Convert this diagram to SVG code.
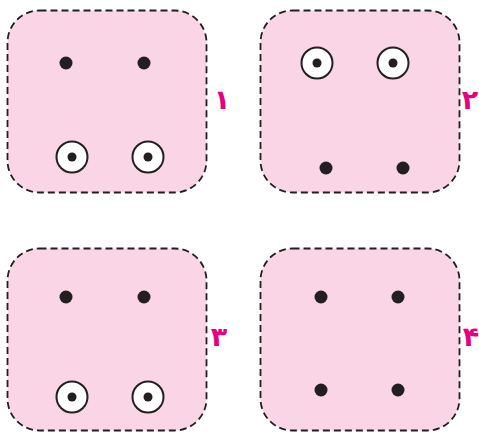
<svg xmlns="http://www.w3.org/2000/svg" width="479" height="432" viewBox="0 0 479 432">
<style>
.box{fill:#f9d5e5;stroke:#231f20;stroke-width:1.8;stroke-dasharray:7 4}
.dot{fill:#231f20}
.ring{fill:#fff;stroke:#231f20;stroke-width:2}
.lbl{fill:#e5007e;font-family:"DejaVu Sans","Noto Sans",sans-serif;font-size:27px;font-weight:bold;text-anchor:middle}
</style>
<defs>
<g id="ringdot"><circle class="ring" r="15.5"/><circle class="dot" r="4.5"/></g>
</defs>
<g id="panel1">
<rect class="box" x="7.5" y="10.5" width="199" height="182" rx="32"/>
<circle class="dot" cx="66" cy="63" r="6.5"/>
<circle class="dot" cx="144" cy="63" r="6.5"/>
<use href="#ringdot" x="72" y="157"/>
<use href="#ringdot" x="148" y="157"/>
<text class="lbl" x="222" y="109">۱</text>
</g>
<g id="panel2">
<rect class="box" x="260.5" y="10.5" width="199" height="182" rx="32"/>
<use href="#ringdot" x="317" y="63"/>
<use href="#ringdot" x="393" y="63"/>
<circle class="dot" cx="326" cy="168" r="6.5"/>
<circle class="dot" cx="403" cy="168" r="6.5"/>
<text class="lbl" x="470" y="109">۲</text>
</g>
<g id="panel3">
<rect class="box" x="7.5" y="248.5" width="199" height="182" rx="32"/>
<circle class="dot" cx="66" cy="297" r="6.5"/>
<circle class="dot" cx="144" cy="297" r="6.5"/>
<use href="#ringdot" x="72" y="397"/>
<use href="#ringdot" x="148" y="397"/>
<text class="lbl" x="219" y="346">۳</text>
</g>
<g id="panel4">
<rect class="box" x="260.5" y="248.5" width="199" height="182" rx="32"/>
<circle class="dot" cx="321" cy="297" r="6.5"/>
<circle class="dot" cx="398" cy="297" r="6.5"/>
<circle class="dot" cx="321" cy="390" r="6.5"/>
<circle class="dot" cx="398" cy="390" r="6.5"/>
<text class="lbl" x="471" y="346">۴</text>
</g>
</svg>
